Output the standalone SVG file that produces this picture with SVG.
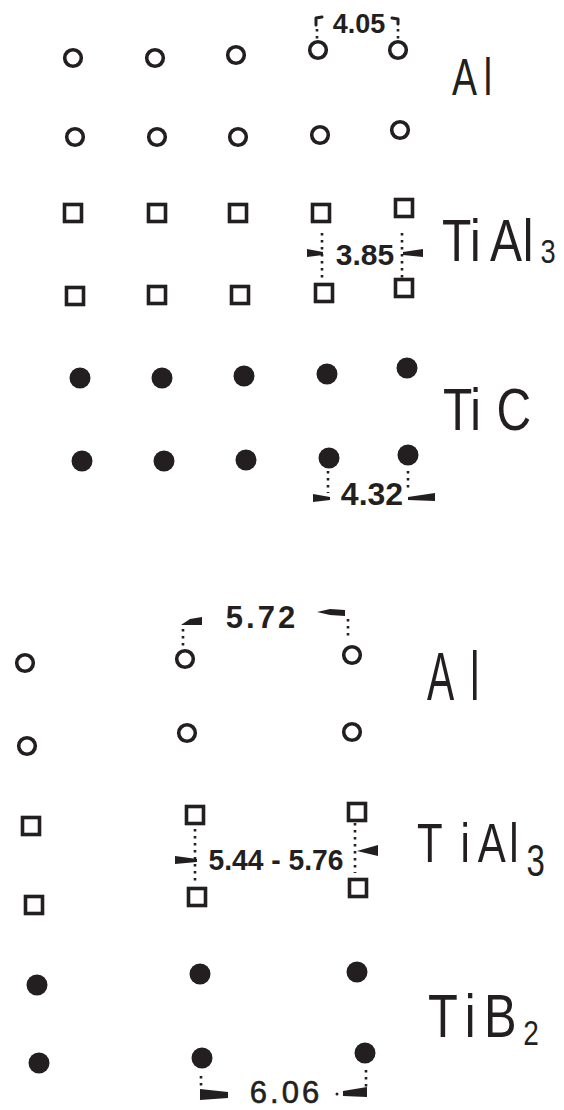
<svg xmlns="http://www.w3.org/2000/svg" width="564" height="1110" viewBox="0 0 564 1110">
<style>
.o{fill:none;stroke:#231f20;stroke-width:3.6}
.s{fill:none;stroke:#231f20;stroke-width:3.6}
.f{fill:#231f20}
.d{stroke:#231f20;stroke-width:2.6;stroke-dasharray:2.5 4.5;fill:none}
.w{fill:#231f20}
.b{fill:none;stroke:#231f20;stroke-width:3;stroke-linecap:round;stroke-linejoin:round}
.lab{font-family:"Liberation Sans",Arial,sans-serif;fill:#231f20}
.dim{font-family:"Liberation Sans",Arial,sans-serif;fill:#231f20;font-weight:bold}
</style>
<defs>
<circle id="c" r="8.3" class="o"/>
<rect id="q" x="-8.5" y="-8.5" width="17" height="17" class="s"/>
<circle id="p" r="10.5" class="f"/>
</defs>
<rect width="564" height="1110" fill="#fff"/>

<!-- top section -->
<g id="top-al-row1">
<use href="#c" x="73" y="58"/><use href="#c" x="155" y="58"/><use href="#c" x="236" y="55"/><use href="#c" x="318" y="50"/><use href="#c" x="398" y="50"/>
</g>
<g id="top-al-row2">
<use href="#c" x="75" y="137"/><use href="#c" x="157" y="137"/><use href="#c" x="238" y="137"/><use href="#c" x="320" y="135"/><use href="#c" x="400" y="130"/>
</g>
<g id="top-tial3-row1">
<use href="#q" x="73" y="213"/><use href="#q" x="157" y="213"/><use href="#q" x="238" y="213"/><use href="#q" x="321" y="213"/><use href="#q" x="404" y="208"/>
</g>
<g id="top-tial3-row2">
<use href="#q" x="75" y="296"/><use href="#q" x="157" y="295"/><use href="#q" x="240" y="295"/><use href="#q" x="324" y="293"/><use href="#q" x="404" y="288"/>
</g>
<g id="top-tic-row1">
<use href="#p" x="80" y="378"/><use href="#p" x="162" y="378"/><use href="#p" x="244" y="376"/><use href="#p" x="327" y="374"/><use href="#p" x="407" y="368"/>
</g>
<g id="top-tic-row2">
<use href="#p" x="82" y="461"/><use href="#p" x="164" y="461"/><use href="#p" x="246" y="460"/><use href="#p" x="329" y="458"/><use href="#p" x="408" y="455"/>
</g>

<g id="label-al-top">
<text class="lab" font-size="52" transform="translate(452,95) scale(0.72,1)"><tspan x="0">A</tspan><tspan x="44">l</tspan></text>
</g>
<g id="label-tial3-top">
<text class="lab" font-size="60" transform="translate(442,261) scale(0.8,1)"><tspan x="0">T</tspan><tspan x="35">i</tspan><tspan x="60">A</tspan><tspan x="101">l</tspan><tspan x="123" y="2" font-size="34">3</tspan></text>
</g>
<g id="label-tic-top">
<text class="lab" font-size="60" transform="translate(443,430) scale(0.8,1)"><tspan x="0">T</tspan><tspan x="34">i</tspan><tspan x="67">C</tspan></text>
</g>

<!-- bottom section -->
<g id="bot-al-row1"><use href="#c" x="25" y="663"/><use href="#c" x="185" y="659"/><use href="#c" x="352" y="655"/></g>
<g id="bot-al-row2"><use href="#c" x="27" y="746"/><use href="#c" x="187" y="733"/><use href="#c" x="352" y="732"/></g>
<g id="bot-tial3-row1"><use href="#q" x="31" y="826"/><use href="#q" x="195" y="815"/><use href="#q" x="357" y="812"/></g>
<g id="bot-tial3-row2"><use href="#q" x="34" y="905"/><use href="#q" x="197" y="897"/><use href="#q" x="358" y="888"/></g>
<g id="bot-tib2-row1"><use href="#p" x="37" y="985"/><use href="#p" x="200" y="974"/><use href="#p" x="357" y="972"/></g>
<g id="bot-tib2-row2"><use href="#p" x="39" y="1063"/><use href="#p" x="202" y="1058"/><use href="#p" x="365" y="1053"/></g>

<g id="label-al-bot">
<text class="lab" font-size="68" transform="translate(427,700) scale(0.6,1)"><tspan x="0">A</tspan><tspan x="72">l</tspan></text>
</g>
<g id="label-tial3-bot">
<text class="lab" font-size="56" transform="translate(417,862) scale(0.75,1)"><tspan x="0">T</tspan><tspan x="58">i</tspan><tspan x="81">A</tspan><tspan x="123">l</tspan><tspan x="146" y="14" font-size="44">3</tspan></text>
</g>
<g id="label-tib2-bot">
<text class="lab" font-size="61" transform="translate(428,1037) scale(0.8,1)"><tspan x="0">T</tspan><tspan x="46">i</tspan><tspan x="70">B</tspan><tspan x="119" y="8" font-size="35">2</tspan></text>
</g>

<!-- dimension lines -->
<g id="dimensions">
<!-- 4.05 -->
<path class="b" d="M316,25 L316,18 L322,17"/>
<path class="b" d="M392,18 L398,19 L398,24"/>
<line class="d" x1="317" y1="29" x2="317" y2="40"/>
<line class="d" x1="398" y1="29" x2="398" y2="40"/>
<text class="dim" font-size="27" x="359" y="33" text-anchor="middle">4.05</text>
<!-- 3.85 -->
<line class="d" x1="322" y1="233" x2="322" y2="278"/>
<line class="d" x1="402" y1="233" x2="402" y2="278"/>
<polygon class="w" points="307,249 323,252 323,255 307,257"/>
<polygon class="w" points="403,252 423,249 423,257 403,255"/>
<text class="dim" font-size="30" x="365" y="265" text-anchor="middle">3.85</text>
<!-- 4.32 -->
<line class="d" x1="328" y1="471" x2="328" y2="493"/>
<line class="d" x1="408" y1="471" x2="408" y2="491"/>
<polygon class="w" points="313,494 330,497 330,500 313,502"/>
<polygon class="w" points="408,497 435,493 435,501 408,500"/>
<text class="dim" font-size="32" x="372" y="505" text-anchor="middle">4.32</text>
<!-- 5.72 -->
<line class="d" x1="183" y1="629" x2="183" y2="647"/>
<line class="d" x1="348" y1="619" x2="348" y2="640"/>
<polygon class="w" points="181,625 190,619 202,617 202,625"/>
<polygon class="w" points="317,612 330,609 345,610 345,616 330,615"/>
<text class="dim" font-size="31" x="262" y="628" text-anchor="middle" letter-spacing="3">5.72</text>
<!-- 5.44 - 5.76 -->
<line class="d" x1="195" y1="829" x2="195" y2="881"/>
<line class="d" x1="355" y1="823" x2="355" y2="873"/>
<polygon class="w" points="175,856 197,859 197,862 175,864"/>
<polygon class="w" points="357,851 378,845 378,856"/>
<text class="dim" font-size="30" x="276" y="870" text-anchor="middle" textLength="135" lengthAdjust="spacingAndGlyphs">5.44 - 5.76</text>
<!-- 6.06 -->
<line class="d" x1="201" y1="1076" x2="201" y2="1087"/>
<line class="d" x1="366" y1="1070" x2="366" y2="1087"/>
<polygon class="w" points="200,1089 228,1092 228,1098 200,1100"/>
<polygon class="w" points="343,1091 367,1087 367,1097 343,1096"/>
<circle class="f" cx="337" cy="1094" r="1.5"/>
<text class="lab" font-size="31" x="286" y="1103" text-anchor="middle" letter-spacing="3" stroke="#231f20" stroke-width="0.6">6.06</text>
</g>
</svg>
